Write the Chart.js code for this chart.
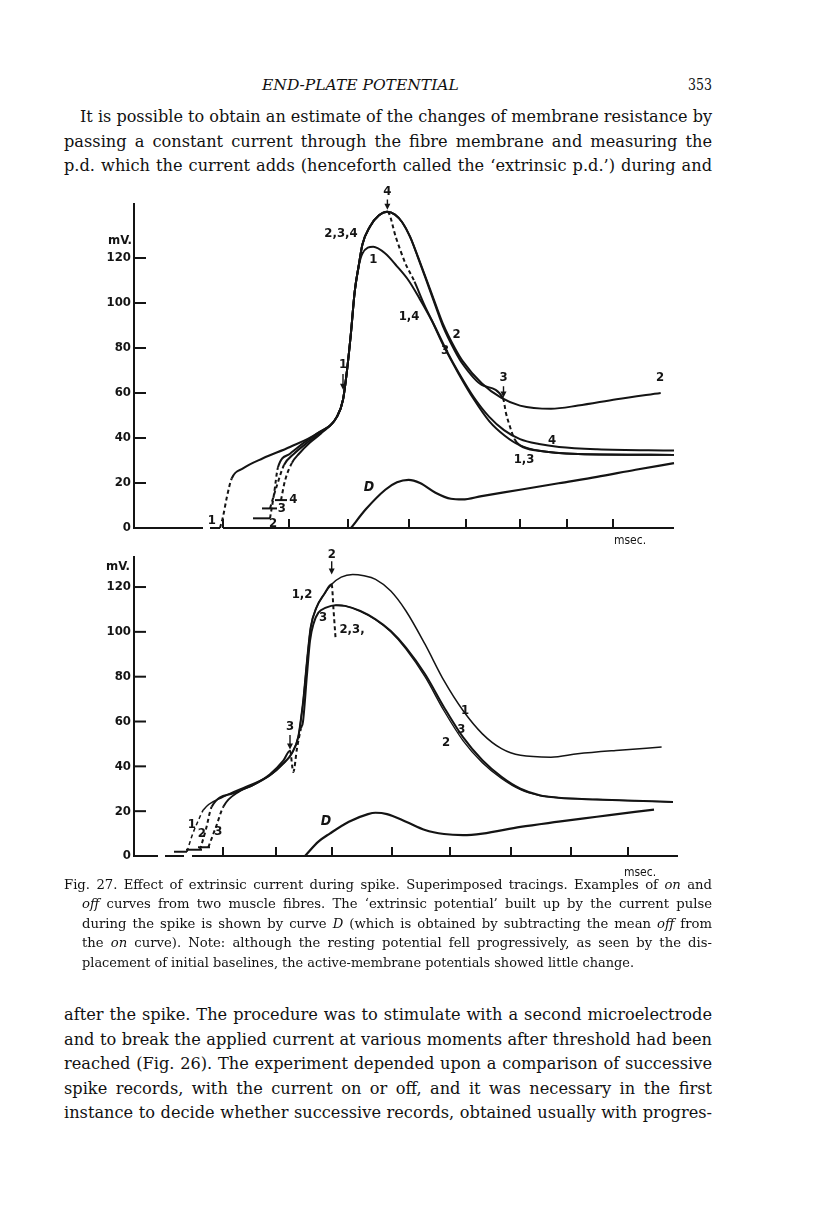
<!DOCTYPE html>
<html><head><meta charset="utf-8">
<script src="https://cdn.jsdelivr.net/npm/chart.js@4.4.1/dist/chart.umd.min.js"></script>
<style>
html,body{margin:0;padding:0;background:#fff;}
body{width:816px;height:1221px;position:relative;overflow:hidden;font-family:'DejaVu Serif',serif;color:#111;}
.ln{position:absolute;white-space:nowrap;display:inline-block;line-height:20px;transform-origin:left center;}
.body{font-size:16.2px;}
.cap{font-size:13.2px;}
.hdr{font-size:15.5px;font-style:italic;}
canvas{position:absolute;}
</style></head><body>

<div class="ln hdr" style="left:262px;top:75px" data-w="205" data-j="0">END-PLATE POTENTIAL</div>
<div class="ln body" style="left:688px;top:75px" data-w="24" data-j="0">353</div>

<div class="ln body" style="left:80px;top:107px" data-w="632">It is possible to obtain an estimate of the changes of membrane resistance by</div>
<div class="ln body" style="left:64px;top:132px" data-w="648">passing a constant current through the fibre membrane and measuring the</div>
<div class="ln body" style="left:64px;top:156px" data-w="648">p.d. which the current adds (henceforth called the &lsquo;extrinsic p.d.&rsquo;) during and</div>

<canvas id="c1" width="640" height="372" style="left:60px;top:180px"></canvas>
<canvas id="c2" width="640" height="345" style="left:60px;top:540px"></canvas>

<div class="ln cap" style="left:64px;top:875px" data-w="648">Fig. 27. Effect of extrinsic current during spike. Superimposed tracings. Examples of <i>on</i> and</div>
<div class="ln cap" style="left:82px;top:894px" data-w="630"><i>off</i> curves from two muscle fibres. The &lsquo;extrinsic potential&rsquo; built up by the current pulse</div>
<div class="ln cap" style="left:82px;top:914px" data-w="630">during the spike is shown by curve <i>D</i> (which is obtained by subtracting the mean <i>off</i> from</div>
<div class="ln cap" style="left:82px;top:933px" data-w="630">the <i>on</i> curve). Note: although the resting potential fell progressively, as seen by the dis-</div>
<div class="ln cap" style="left:82px;top:953px" data-w="552" data-j="0">placement of initial baselines, the active-membrane potentials showed little change.</div>

<div class="ln body" style="left:64px;top:1005px" data-w="648">after the spike. The procedure was to stimulate with a second microelectrode</div>
<div class="ln body" style="left:64px;top:1030px" data-w="648">and to break the applied current at various moments after threshold had been</div>
<div class="ln body" style="left:64px;top:1054px" data-w="648">reached (Fig. 26). The experiment depended upon a comparison of successive</div>
<div class="ln body" style="left:64px;top:1079px" data-w="648">spike records, with the current on or off, and it was necessary in the first</div>
<div class="ln body" style="left:64px;top:1103px" data-w="648">instance to decide whether successive records, obtained usually with progres-</div>

<script>
// ---------- shared ----------
const mvTicks = [0, 20, 40, 60, 80, 100, 120];

// ---------- upper figure (fibre A) ----------
const aTimeTicks = [89, 155, 214, 275, 332, 386, 433, 479];
const aAxisT  = [0, 69, 72, 76, 86, 87, 89, 540];
const aAxisMv = [0, 0, null, 0, 0, null, 0, 0];
const aBase2T = [119, 136], aBase2Mv = [4.3, 4.3];
const aBase3T = [128, 143], aBase3Mv = [8.7, 8.7];
const aBase4T = [141, 153], aBase4Mv = [12.4, 12.4];

const a1T  = [86, 89, 93, 97.7, 109, 129, 156, 183, 203, 209, 213, 216.8, 220.7, 224.5, 228.4, 239.2, 251.3, 263, 274.6, 286, 297.6, 309, 324.6, 340, 355.4, 370.8, 386, 405, 444, 540];
const a1Mv = [0, 5, 14, 22, 26.5, 31, 36, 42, 49.5, 57, 70, 86, 105, 116, 122, 125, 122, 116.3, 110, 101.6, 92.3, 81.5, 68.6, 57.1, 47.4, 41, 36.7, 34.3, 32.9, 32.5];
const a1Dash = [0, 1, 2];

const a2T  = [136, 140, 144, 156, 169, 183, 203, 209, 213, 216.8, 220.7, 224.5, 228.4, 236, 245, 253.4, 261, 268, 276, 284, 292, 301.5, 309.2, 320.8, 328.5, 347.7, 367, 386, 417, 444, 482.5, 526.7];
const a2Mv = [4.3, 15, 27, 33, 37.6, 42, 49.5, 57, 70, 86, 105, 116, 126, 134, 139, 140.6, 139.3, 136, 129.5, 120.5, 111, 99.5, 90.5, 80, 74.3, 64.3, 57.9, 54.4, 53, 54.4, 57.2, 60];
const a2Dash = [0, 1];

const a3T  = [136, 143, 150, 160, 172, 185, 203, 209, 213, 216.8, 220.7, 224.5, 228.4, 236, 245, 253.4, 261, 268, 276, 284, 292, 301.5, 309.2, 320.8, 328.5, 347.7, 369, 372, 376, 380.4, 386, 405, 444, 540];
const a3Mv = [8.7, 19, 28, 33, 37.5, 42, 49.5, 57, 70, 86, 105, 116, 126, 134, 139, 140.6, 139.3, 136, 129.5, 120.2, 110.5, 98.7, 89.4, 78.8, 73, 63.6, 57.7, 51, 45, 39.6, 36.7, 34.3, 32.9, 32.5];
const a3Dash = [0, 1, 26, 27, 28];

const a4T  = [147, 151, 158, 165, 176, 187, 203, 209, 213, 216.8, 220.7, 224.5, 228.4, 236, 245, 253.4, 262, 271, 280.5, 290, 301.5, 313, 325, 340, 355, 370, 386, 405, 425, 463, 540];
const a4Mv = [12.4, 21, 29, 33, 38, 42, 49.5, 57, 70, 86, 105, 116, 126, 134, 139, 140.6, 129, 118, 109.5, 99.5, 89, 78.5, 68.8, 58, 49.5, 43.5, 39.5, 37.3, 36, 35, 34.4];
const a4Dash = [0, 1, 15, 16, 17];

const aDT  = [217, 232, 251.3, 263, 274.6, 286, 301.5, 316.9, 328.5, 347.7, 386, 424.7, 463, 501.6, 540];
const aDMv = [0, 8.4, 17, 20.3, 21.4, 20, 15.7, 13, 12.7, 14.2, 17, 19.9, 22.7, 25.9, 28.8];

const aNoteText = ['mV.', 'msec.', '2,3,4', '1', '1,4', '2', '3', '2', '4', '1,3', 'D', '1', '2', '3', '4'];
const aNoteT    = [-14, 496, 207, 239.4, 275, 322.5, 311, 526, 418, 390, 235, 77.7, 139, 147.7, 159.3];
const aNoteMv   = [127.6, -5.8, 131, 119.5, 94, 86, 79, 67, 38.8, 30.5, 18, 3.5, 2, 8.7, 12.8];

const aArrowText = ['4', '1', '3'];
const aArrowT    = [253.4, 209, 369.5];
const aArrowTop  = [149.5, 72.8, 67];
const aArrowFrom = [146, 68.5, 63];
const aArrowTo   = [141.5, 61.5, 58];

// ---------- lower figure (fibre B) ----------
const bTimeTicks = [89, 142, 198, 258, 316, 377, 437, 494];
const bAxisT  = [0, 24, 27, 31, 50, 54, 58, 544];
const bAxisMv = [0, 0, null, 0, 0, null, 0, 0];
const bBase1T = [40, 53], bBase1Mv = [1.9, 1.9];
const bBase2T = [52, 68], bBase2Mv = [2.8, 2.8];
const bBase3T = [64, 76], bBase3Mv = [3.9, 3.9];

const b1T  = [53, 58, 64, 69.3, 89.3, 116, 136, 149.3, 157.7, 164.3, 167.7, 169.3, 173, 176.7, 182.4, 190, 197.7, 207.2, 218.7, 230, 241.6, 256.8, 272, 291, 310, 329, 348.4, 367.5, 386.5, 417, 443.7, 481.8, 527.6];
const b1Mv = [1.9, 9, 15.5, 20.5, 26.4, 31.7, 36, 41.3, 45.7, 53.2, 63.6, 69.5, 87, 102, 110.8, 116.7, 121.2, 124.4, 125.6, 125, 123.4, 118.2, 109.3, 94.5, 78.2, 64.9, 54.5, 47.9, 44.9, 44.1, 45.6, 47.1, 48.6];
const b1Dash = [0, 1, 2];

const b2T  = [66, 72, 77.7, 99.3, 119.3, 136, 149.3, 157.7, 164.3, 167.7, 169.3, 173, 176.7, 182.4, 190, 197.7, 199.5, 201.5];
const b2Mv = [2.8, 12, 22, 28, 31.7, 36, 41.3, 45.7, 53.2, 63.6, 69.5, 87, 102, 110.8, 116.7, 121.2, 110, 97.5];
const b2Dash = [0, 1, 15, 16];

const b2LowT  = [201.5, 211, 226.3, 241.6, 256.8, 272, 291, 310, 329, 348.4, 367.5, 386.5, 405.6, 424.6, 462.8, 501, 539];
const b2LowMv = [111.9, 111.6, 109.3, 105.4, 100, 92.3, 80, 64.8, 51.5, 41.6, 34.6, 29.6, 27, 26, 25.2, 24.6, 24.1];

const b3T  = [74.3, 82, 89.3, 106, 119.3, 136, 149.3, 156, 159.3, 163, 167, 169, 173, 176, 179.8, 184.4, 192, 201.5, 211, 226.3, 241.6, 256.8, 272, 291, 310, 329, 348.4, 367.5, 386.5, 405.6, 424.6, 462.8, 501, 539];
const b3Mv = [3.9, 13, 22, 29, 31.7, 36.5, 42.5, 47, 37.5, 48, 57, 60, 81, 96, 104, 108.6, 110.8, 111.9, 111.6, 109.3, 105.6, 100.4, 93, 81.2, 66.4, 53, 42.7, 35.3, 30, 27.1, 26, 25.2, 24.6, 24.1];
const b3Dash = [0, 1, 7, 8, 9];

const bDT  = [171, 184.4, 195.8, 214.9, 234, 241.6, 253, 272, 291, 310, 329, 348.4, 386.5, 424.6, 462.8, 501, 520];
const bDMv = [0, 6.4, 10, 15.3, 18.7, 19.3, 18.7, 15.3, 11.6, 9.8, 9.3, 10, 13, 15.3, 17.5, 19.7, 20.7];

const bNoteText = ['mV.', 'msec.', '1,2', '3', '2,3,', '1', '3', '2', 'D', '1', '2', '3'];
const bNoteT    = [-16, 506, 168, 189, 218, 331, 327.4, 312, 192, 57.7, 67.7, 84.3];
const bNoteMv   = [128.9, -7.5, 116.7, 106.4, 101.2, 64.9, 56.3, 50.8, 15.3, 13.8, 10.1, 10.8];

const bArrowText = ['2', '3'];
const bArrowT    = [197.7, 156];
const bArrowTop  = [134.5, 57.5];
const bArrowFrom = [131.5, 54];
const bArrowTo   = [125.6, 47.5];

// ---------- drawing ----------
const INK = '#141414';
const SANS = "'DejaVu Sans Condensed','Liberation Sans Narrow','DejaVu Sans',sans-serif";

function pts(t, mv) { return t.map((x, i) => ({x: x, y: mv[i]})); }
function trace(t, mv, dash, w) {
  const ds = new Set(dash || []);
  return {
    data: pts(t, mv), borderColor: INK, borderWidth: w || 2, pointRadius: 0, fill: false,
    cubicInterpolationMode: 'monotone', clip: false, spanGaps: false,
    segment: { borderDash: c => ds.has(c.p0DataIndex) ? [4, 3] : undefined }
  };
}
function straight(t, mv, w) {
  return { data: pts(t, mv), borderColor: INK, borderWidth: w || 2, pointRadius: 0, fill: false,
    tension: 0, clip: false, spanGaps: false };
}

const marksPlugin = {
  id: 'marks',
  afterDatasetsDraw(chart, args, o) {
    const ctx = chart.ctx, a = chart.chartArea, x = chart.scales.x, y = chart.scales.y;
    ctx.save();
    ctx.strokeStyle = INK; ctx.fillStyle = INK; ctx.lineWidth = 2; ctx.lineCap = 'butt';
    const y0 = y.getPixelForValue(0);
    o.timeTicks.forEach(v => {
      const px = x.getPixelForValue(v);
      ctx.beginPath(); ctx.moveTo(px, y0); ctx.lineTo(px, y0 - 9); ctx.stroke();
    });
    mvTicks.forEach(v => {
      const py = y.getPixelForValue(v);
      ctx.beginPath(); ctx.moveTo(a.left, py); ctx.lineTo(a.left + 12, py); ctx.stroke();
    });
    ctx.textAlign = 'center'; ctx.textBaseline = 'middle';
    o.arrowText.forEach((s, i) => {
      const px = x.getPixelForValue(o.arrowT[i]);
      const p1 = y.getPixelForValue(o.arrowFrom[i]), p2 = y.getPixelForValue(o.arrowTo[i]);
      ctx.lineWidth = 1.4;
      ctx.beginPath(); ctx.moveTo(px, p1); ctx.lineTo(px, p2 - 4); ctx.stroke();
      ctx.beginPath(); ctx.moveTo(px - 3, p2 - 6); ctx.lineTo(px + 3, p2 - 6); ctx.lineTo(px, p2); ctx.closePath(); ctx.fill();
      ctx.font = 'bold 13px ' + SANS;
      ctx.fillText(s, px, y.getPixelForValue(o.arrowTop[i]));
    });
    o.noteText.forEach((s, i) => {
      let f = 'bold 13px ';
      if (s === 'D') f = 'italic bold 14px ';
      if (s === 'msec.') f = '12px ';
      ctx.font = f + SANS;
      ctx.fillText(s, x.getPixelForValue(o.noteT[i]), y.getPixelForValue(o.noteMv[i]));
    });
    ctx.restore();
  }
};

function makeChart(id, datasets, mvMax, pad, marks) {
  return new Chart(document.getElementById(id), {
    type: 'line',
    data: { datasets: datasets },
    options: {
      responsive: false, animation: false, events: [],
      layout: { padding: pad },
      plugins: { legend: { display: false }, tooltip: { enabled: false }, marks: marks },
      scales: {
        x: { type: 'linear', display: false, min: 0, max: 545 },
        y: {
          type: 'linear', min: 0, max: mvMax,
          afterBuildTicks: s => { s.ticks = mvTicks.map(v => ({ value: v })); },
          afterFit: s => { s.width = 74; },
          grid: { display: true, drawOnChartArea: false, drawTicks: false, color: 'rgba(0,0,0,0)' },
          border: { display: true, color: INK, width: 2 },
          ticks: { padding: 3, color: INK, font: { family: SANS, size: 13, weight: 'bold' } }
        }
      }
    },
    plugins: [marksPlugin]
  });
}

function build() {
  makeChart('c1', [
    straight(aAxisT, aAxisMv),
    straight(aBase2T, aBase2Mv), straight(aBase3T, aBase3Mv), straight(aBase4T, aBase4Mv),
    trace(a1T, a1Mv, a1Dash), trace(a2T, a2Mv, a2Dash), trace(a3T, a3Mv, a3Dash), trace(a4T, a4Mv, a4Dash),
    trace(aDT, aDMv, [], 2.2)
  ], 144, { top: 24, bottom: 24, left: 0, right: 21 }, {
    timeTicks: aTimeTicks, noteText: aNoteText, noteT: aNoteT, noteMv: aNoteMv,
    arrowText: aArrowText, arrowT: aArrowT, arrowTop: aArrowTop, arrowFrom: aArrowFrom, arrowTo: aArrowTo
  });
  makeChart('c2', [
    straight(bAxisT, bAxisMv),
    straight(bBase1T, bBase1Mv), straight(bBase2T, bBase2Mv), straight(bBase3T, bBase3Mv),
    trace(b1T, b1Mv, b1Dash, 1.5), trace(b2T, b2Mv, b2Dash), trace(b2LowT, b2LowMv, [], 1.4), trace(b3T, b3Mv, b3Dash),
    trace(bDT, bDMv, [], 2.2)
  ], 133.4, { top: 17, bottom: 29, left: 0, right: 21 }, {
    timeTicks: bTimeTicks, noteText: bNoteText, noteT: bNoteT, noteMv: bNoteMv,
    arrowText: bArrowText, arrowT: bArrowT, arrowTop: bArrowTop, arrowFrom: bArrowFrom, arrowTo: bArrowTo
  });
}

function fitLines() {
  document.querySelectorAll('.ln').forEach(el => {
    const W = +el.dataset.w, just = el.dataset.j !== '0';
    const w = el.getBoundingClientRect().width;
    const n = (el.textContent.match(/ /g) || []).length;
    if (w > W + 0.5 || (!just && n === 0)) {
      el.style.transform = 'scaleX(' + (W / w) + ')';
    } else if (just && n) {
      el.style.wordSpacing = ((W - w) / n) + 'px';
    }
  });
}

build();
fitLines();
</script>
</body></html>
